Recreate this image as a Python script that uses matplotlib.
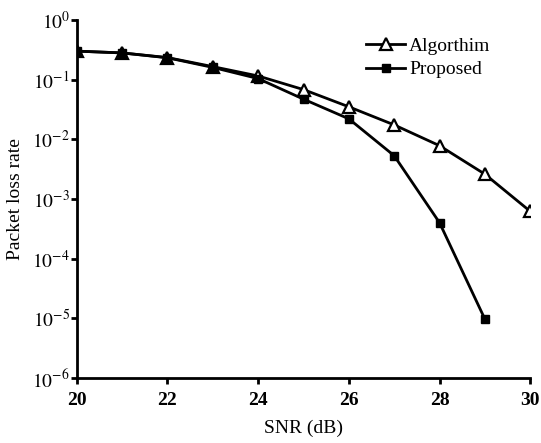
import matplotlib
matplotlib.use("Agg")
from matplotlib import pyplot as plt
from matplotlib.ticker import FixedLocator, FixedFormatter

plt.rcParams["font.family"] = ["Liberation Serif", "DejaVu Serif"]
plt.rcParams["mathtext.fontset"] = "stix"

snr = [20, 21, 22, 23, 24, 25, 26, 27, 28, 29, 30]
algorithm_loss = [0.30, 0.28, 0.234, 0.165, 0.115, 0.068, 0.035, 0.0174, 0.0078, 0.0026, 0.00062]
proposed_snr = [20, 21, 22, 23, 24, 25, 26, 27, 28, 29]
proposed_loss = [0.30, 0.28, 0.232, 0.160, 0.104, 0.047, 0.022, 0.0053, 0.0004, 0.0000097]

x_ticks = [20, 22, 24, 26, 28, 30]
y_ticks = [1e0, 1e-1, 1e-2, 1e-3, 1e-4, 1e-5, 1e-6]
y_tick_labels = [r"$10^{0}$", r"$10^{-1}$", r"$10^{-2}$", r"$10^{-3}$",
                 r"$10^{-4}$", r"$10^{-5}$", r"$10^{-6}$"]

fig = plt.figure(figsize=(5.41, 4.43), dpi=100)
ax = fig.add_axes([0.142, 0.147, 0.838, 0.808])

ax.plot(snr, algorithm_loss, color="black", lw=2, marker="^", ms=8,
        mfc="white", mec="black", mew=1.6, label="Algorthim")
ax.plot(proposed_snr, proposed_loss, color="black", lw=2, marker="s", ms=6,
        mfc="black", mec="black", label="Proposed")

ax.set_yscale("log")
ax.set_xlim(20, 30)
ax.set_ylim(1e-6, 1e0)
ax.xaxis.set_major_locator(FixedLocator(x_ticks))
ax.yaxis.set_major_locator(FixedLocator(y_ticks))
ax.yaxis.set_major_formatter(FixedFormatter(y_tick_labels))
ax.yaxis.set_minor_locator(FixedLocator([]))

for side in ["top", "right"]:
    ax.spines[side].set_visible(False)
for side in ["left", "bottom"]:
    ax.spines[side].set_linewidth(2)
ax.tick_params(direction="out", length=4, width=2, labelsize=14)
ax.tick_params(axis="x", pad=6)
ax.tick_params(axis="y", pad=1)
for lab in ax.get_xticklabels():
    lab.set_fontweight("bold")

ax.set_xlabel("SNR (dB)", fontsize=14, labelpad=8)
ax.set_ylabel("Packet loss rate", fontsize=14, labelpad=6)

ax.legend(loc="upper left", bbox_to_anchor=(0.6, 1.0), frameon=False,
          fontsize=14, handlelength=2.0, handletextpad=0.2, labelspacing=0.3)

fig.savefig("out.png", dpi=100)
